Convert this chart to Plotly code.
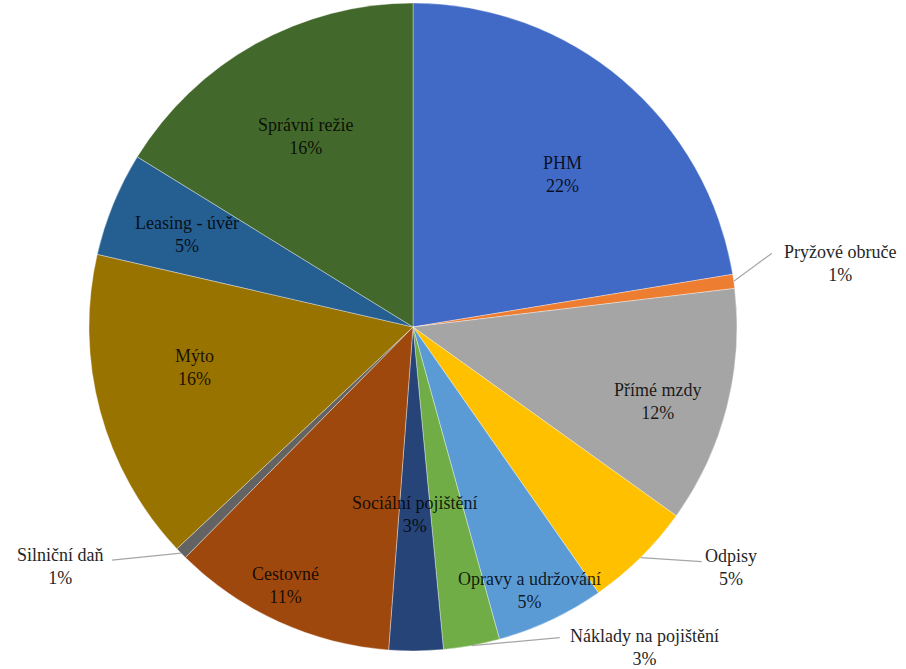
import math
import plotly.graph_objects as go

# Cost structure (share of total, %)
categories = [
    "PHM", "Pryžové obruče", "Přímé mzdy", "Odpisy", "Opravy a udržování",
    "Náklady na pojištění", "Sociální pojištění", "Cestovné", "Silniční daň",
    "Mýto", "Leasing - úvěr", "Správní režie",
]
values = [22.4, 0.7, 11.8, 5.4, 5.4, 2.8, 2.7, 11.2, 0.6, 15.6, 5.2, 16.2]
colors = [
    "#4169C6", "#ED7D31", "#A5A5A5", "#FFC000", "#5B9BD5", "#70AD47",
    "#264478", "#9E480E", "#636363", "#997300", "#255E91", "#43682B",
]

# Inside labels: (radial factor, angular nudge in degrees) from the slice middle
inside = {
    "PHM": (0.66, 4.0), "Přímé mzdy": (0.79, 2.6), "Opravy a udržování": (0.89, 1.3),
    "Sociální pojištění": (0.58, 0.0), "Cestovné": (0.89, 1.8), "Mýto": (0.685, 4.5),
    "Leasing - úvěr": (0.753, 0.0), "Správní režie": (0.675, -0.4),
}
# Outside labels: (leader end offset, text centre offset) in px from the slice edge
outside = {
    "Pryžové obruče": ((38, -28), (106, -18)),
    "Odpisy": ((61, 4), (90, 10)),
    "Náklady na pojištění": ((88, -8), (173, 2)),
    "Silniční daň": ((-69, 7), (-121, 13)),
}

W, H = 906, 669
CX, CY, R = 413, 327, 324
FONT = "Liberation Serif, Times New Roman, serif"

fig = go.Figure(go.Pie(
    labels=categories,
    values=values,
    sort=False,
    direction="clockwise",
    rotation=0,
    textinfo="none",
    hoverinfo="label+percent",
    marker=dict(colors=colors, line=dict(color="rgba(255,255,255,0.6)", width=0.6)),
    domain=dict(x=[(CX - R) / W, (CX + R) / W], y=[1 - (CY + R) / H, 1 - (CY - R) / H]),
    showlegend=False,
))

def px_to_paper(x, y):
    return x / W, 1 - y / H

total = sum(values)
annotations, shapes = [], []
cum = 0.0
for name, v in zip(categories, values):
    mid = (cum + v / 2) / total * 2 * math.pi
    cum += v
    pct = f"{round(v / total * 100):d}%"
    text = f"{name}<br>{pct}"
    if name in inside:
        rf, nudge = inside[name]
        a = mid + math.radians(nudge)
        r = rf * R
        x, y = px_to_paper(CX + r * math.sin(a), CY - r * math.cos(a))
        color = "rgba(0,0,0,0.85)"
    else:
        (lx, ly), (tx, ty) = outside[name]
        ex, ey = CX + R * math.sin(mid), CY - R * math.cos(mid)
        x0, y0 = px_to_paper(ex, ey)
        x1, y1 = px_to_paper(ex + lx, ey + ly)
        shapes.append(dict(type="line", xref="paper", yref="paper",
                           x0=x0, y0=y0, x1=x1, y1=y1,
                           line=dict(color="#A6A6A6", width=1.2)))
        x, y = px_to_paper(ex + tx, ey + ty)
        color = "#262626"
    annotations.append(dict(
        x=x, y=y, xref="paper", yref="paper", text=text, showarrow=False,
        xanchor="center", yanchor="middle", align="center",
        font=dict(family=FONT, size=18, color=color),
    ))

fig.update_layout(
    width=W, height=H,
    margin=dict(l=0, r=0, t=0, b=0),
    paper_bgcolor="white",
    plot_bgcolor="white",
    font=dict(family=FONT, size=18),
    annotations=annotations,
    shapes=shapes,
)

fig.write_html("out.html")
